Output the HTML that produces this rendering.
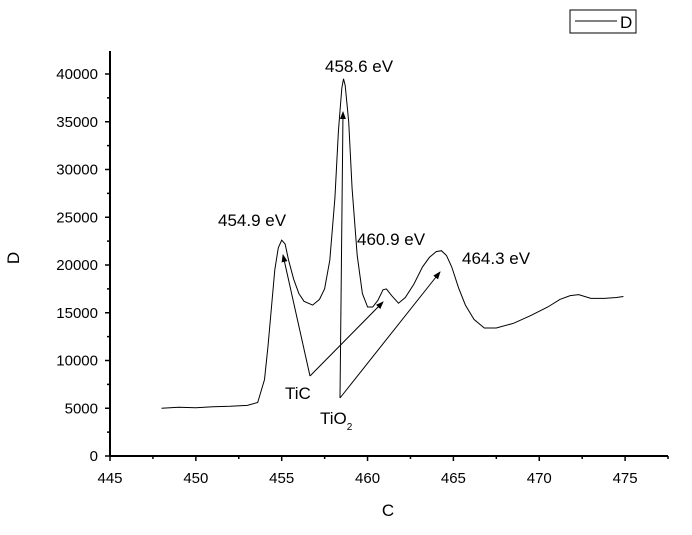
<!DOCTYPE html>
<html><head><meta charset="utf-8"><style>
html,body{margin:0;padding:0;background:#fff;}
svg text{font-family:"Liberation Sans",Arial,sans-serif;fill:#000;}
</style></head><body>
<svg id="chart" width="692" height="530" xmlns="http://www.w3.org/2000/svg">
<defs><marker id="ah" markerWidth="8" markerHeight="8" refX="7" refY="4" orient="auto" markerUnits="userSpaceOnUse"><path d="M0,1 L8,4 L0,7 z" fill="#000"/></marker></defs>
<g id="axes"></g>
<path id="series" fill="none" stroke="#000" stroke-width="1"/>
<g id="notes"></g>
<g>
<rect x="570" y="10" width="66" height="23" fill="#fff" stroke="#000" stroke-width="1"/>
<line x1="575" y1="21" x2="617" y2="21" stroke="#000"/>
<text x="620" y="28" font-size="17">D</text>
</g>
<text x="388" y="516" font-size="17" text-anchor="middle">C</text>
<text x="19" y="258" font-size="17" text-anchor="middle" transform="rotate(-90 19 258)">D</text>
</svg>
<script>
const xs=[448,449,450,451,452,453,453.6,454,454.2,454.4,454.6,454.8,455,455.2,455.4,455.7,456,456.3,456.8,457.2,457.5,457.8,458.1,458.3,458.5,458.6,458.7,458.9,459.1,459.4,459.7,460,460.3,460.6,460.9,461.1,461.4,461.8,462.2,462.7,463.2,463.6,464,464.3,464.6,464.9,465.3,465.7,466.2,466.8,467.5,468.5,469.5,470.5,471.2,471.8,472.3,473,473.8,474.5,474.9];
const ys=[5000,5100,5050,5150,5200,5300,5600,8000,11500,15500,19500,21800,22600,22200,20500,18500,17000,16200,15800,16400,17500,20500,27000,34000,38500,39500,38800,35000,28000,21000,17000,15600,15600,16300,17400,17500,16800,16000,16600,18000,19800,20800,21400,21500,21000,19800,17600,15800,14300,13400,13400,13900,14700,15600,16400,16800,16900,16500,16500,16600,16700];
const xTicks=[445,450,455,460,465,470,475];
const yTicks=[0,5000,10000,15000,20000,25000,30000,35000,40000];
const X=v=>110+(v-445)*17.17, Y=v=>456-v*0.00955;
const ns="http://www.w3.org/2000/svg";
const ax=document.getElementById('axes');
function mk(t,a,p){const e=document.createElementNS(ns,t);for(const k in a)e.setAttribute(k,a[k]);(p||ax).appendChild(e);return e;}
const xl=mk('line',{x1:110,y1:456,x2:668,y2:456,stroke:'#000','stroke-width':2});


const yl=mk('line',{x1:110,y1:456,x2:110,y2:51,stroke:'#000','stroke-width':2});


for(let v=445;v<=477.5;v+=2.5){const maj=(v%5===0);mk('line',{x1:X(v),y1:456,x2:X(v),y2:456+(maj?5:3),stroke:'#000','stroke-width':1.5});}
xTicks.forEach(v=>{const t=mk('text',{x:X(v),y:483,'font-size':15,'text-anchor':'middle'});t.textContent=v;

});
for(let v=0;v<=42000;v+=2500){const maj=(v%5000===0);mk('line',{x1:110,y1:Y(v),x2:110-(maj?5:3),y2:Y(v),stroke:'#000','stroke-width':1.5});}
yTicks.forEach(v=>{const t=mk('text',{x:98,y:Y(v)+5,'font-size':15,'text-anchor':'end'});t.textContent=v;

});
document.getElementById('series').setAttribute('d',xs.map((x,i)=>(i?'L':'M')+X(x).toFixed(1)+','+Y(ys[i]).toFixed(1)).join(''));
const nt=document.getElementById('notes');
[[310,376,283,255],[310,376,383,302],[340,398,343,112],[340,398,440,272]].forEach(a=>{const l=mk('line',{x1:a[0],y1:a[1],x2:a[2],y2:a[3],stroke:'#000','stroke-width':1,'marker-end':'url(#ah)'},nt);

});
[['458.6 eV',325,72],['454.9 eV',218,226],['460.9 eV',357,245],['464.3 eV',462,264],['TiC',285,399]].forEach(a=>{const t=mk('text',{x:a[1],y:a[2],'font-size':17},nt);t.textContent=a[0];

});
const ti=mk('text',{x:320,y:424,'font-size':17},nt);ti.innerHTML='TiO<tspan font-size="10" dy="6">2</tspan>';


</script>
</body></html>
